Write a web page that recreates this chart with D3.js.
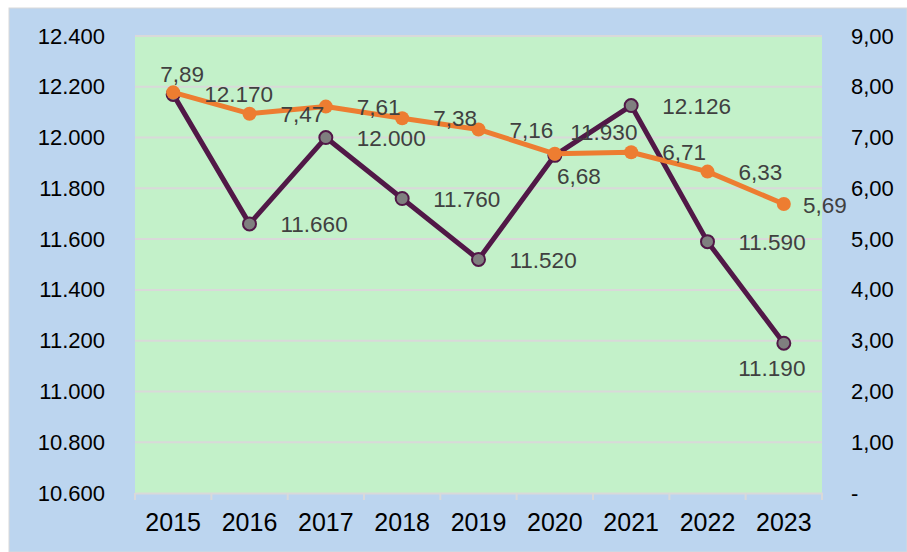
<!DOCTYPE html>
<html>
<head>
<meta charset="utf-8">
<script src="https://cdn.jsdelivr.net/npm/d3@7"></script>
<style>
  body { margin: 0; background: #fff; }
  text { font-family: "Liberation Sans", Arial, sans-serif; }
</style>
</head>
<body>
<div id="chart"></div>
<script>
// categories and series
const years = ['2015', '2016', '2017', '2018', '2019', '2020', '2021', '2022', '2023'];
const purpleValues = [12170, 11660, 12000, 11760, 11520, 11930, 12126, 11590, 11190];
const orangeValues = [7.89, 7.47, 7.61, 7.38, 7.16, 6.68, 6.71, 6.33, 5.69];

// tick values
const leftTicks = [10600, 10800, 11000, 11200, 11400, 11600, 11800, 12000, 12200, 12400];
const rightTicks = [0, 1, 2, 3, 4, 5, 6, 7, 8, 9];

// label placement: 'r' = right of point, otherwise [dx, dy] from point to label centre
const purpleLabelPos = ['r', 'r', 'r', 'r', 'r', [49, -23], 'r', 'r', [-12, 25]];
const orangeLabelPos = [[9, -18], 'r', 'r', 'r', 'r', [24, 22], 'r', 'r', [41, 1]];

const width = 907;
const height = 552;
const plot = { left: 135, right: 822, top: 36, bottom: 493 };

const purple = '#511847';
const orange = '#ed7d31';

const fmtLeft = v => d3.format(',')(v).replace(/,/g, '.');
const fmtRight = v => v === 0 ? '-' : d3.format('.2f')(v).replace('.', ',');
const fmtPurpleLabel = v => d3.format(',')(v).replace(/,/g, '.');
const fmtOrangeLabel = v => d3.format('.2f')(v).replace('.', ',');

const svg = d3.select('#chart')
  .append('svg')
  .attr('width', width)
  .attr('height', height);

// backgrounds
svg.append('rect')
  .attr('x', 9).attr('y', 8)
  .attr('width', width - 9).attr('height', height - 8)
  .attr('fill', '#bcd5ef')
  .attr('stroke', '#d9d9d9');

svg.append('rect')
  .attr('x', plot.left).attr('y', plot.top)
  .attr('width', plot.right - plot.left).attr('height', plot.bottom - plot.top)
  .attr('fill', '#c3f1c9');

const x = d3.scaleBand()
  .domain(years)
  .range([plot.left, plot.right]);

const yLeft = d3.scaleLinear()
  .domain([10600, 12400])
  .range([plot.bottom, plot.top]);

const yRight = d3.scaleLinear()
  .domain([0, 9])
  .range([plot.bottom, plot.top]);

const cx = d => x(d) + x.bandwidth() / 2;

// gridlines
svg.append('g')
  .selectAll('line')
  .data(leftTicks.slice(1))
  .enter()
  .append('line')
  .attr('x1', plot.left).attr('x2', plot.right)
  .attr('y1', d => yLeft(d)).attr('y2', d => yLeft(d))
  .attr('stroke', '#d9d9d9')
  .attr('stroke-width', 2);

// left axis
const leftAxis = svg.append('g')
  .attr('transform', `translate(${plot.left}, 0)`)
  .call(d3.axisLeft(yLeft).tickValues(leftTicks).tickFormat(fmtLeft).tickSize(0).tickPadding(30));
leftAxis.select('.domain').remove();
leftAxis.selectAll('text')
  .attr('font-size', 22)
  .attr('fill', '#000')
  .attr('font-family', '"Liberation Sans", Arial, sans-serif');

// right axis
const rightAxis = svg.append('g')
  .attr('transform', `translate(${plot.right}, 0)`)
  .call(d3.axisRight(yRight).tickValues(rightTicks).tickFormat(fmtRight).tickSize(0).tickPadding(29));
rightAxis.select('.domain').remove();
rightAxis.selectAll('text')
  .attr('font-size', 22)
  .attr('fill', '#000')
  .attr('font-family', '"Liberation Sans", Arial, sans-serif');

// bottom axis
const bottomAxis = svg.append('g')
  .attr('transform', `translate(0, ${plot.bottom})`)
  .call(d3.axisBottom(x).tickSize(0).tickPadding(20));
bottomAxis.select('.domain')
  .attr('stroke', '#d9d9d9')
  .attr('stroke-width', 2);
bottomAxis.selectAll('text')
  .attr('font-size', 25)
  .attr('fill', '#000')
  .attr('font-family', '"Liberation Sans", Arial, sans-serif');

// category boundary ticks
svg.append('g')
  .selectAll('line')
  .data(years.concat(['end']))
  .enter()
  .append('line')
  .attr('x1', (d, i) => i < years.length ? x(d) : plot.right)
  .attr('x2', (d, i) => i < years.length ? x(d) : plot.right)
  .attr('y1', plot.bottom)
  .attr('y2', plot.bottom + 7)
  .attr('stroke', '#d9d9d9')
  .attr('stroke-width', 2);

// purple series
const purpleLine = d3.line()
  .x((d, i) => cx(years[i]))
  .y(d => yLeft(d));

svg.append('path')
  .attr('d', purpleLine(purpleValues))
  .attr('fill', 'none')
  .attr('stroke', purple)
  .attr('stroke-width', 5)
  .attr('stroke-linejoin', 'round');

svg.append('g')
  .selectAll('circle')
  .data(purpleValues)
  .enter()
  .append('circle')
  .attr('cx', (d, i) => cx(years[i]))
  .attr('cy', d => yLeft(d))
  .attr('r', 6.5)
  .attr('fill', '#7f7f7f')
  .attr('stroke', purple)
  .attr('stroke-width', 2);

// orange series
const orangeLine = d3.line()
  .x((d, i) => cx(years[i]))
  .y(d => yRight(d));

svg.append('path')
  .attr('d', orangeLine(orangeValues))
  .attr('fill', 'none')
  .attr('stroke', orange)
  .attr('stroke-width', 5)
  .attr('stroke-linejoin', 'round');

svg.append('g')
  .selectAll('circle')
  .data(orangeValues)
  .enter()
  .append('circle')
  .attr('cx', (d, i) => cx(years[i]))
  .attr('cy', d => yRight(d))
  .attr('r', 7)
  .attr('fill', orange);

// data labels
function drawLabels(values, scale, fmt, positions) {
  svg.append('g')
    .selectAll('text')
    .data(values)
    .enter()
    .append('text')
    .attr('x', (d, i) => {
      const p = positions[i];
      return p === 'r' ? cx(years[i]) + 31 : cx(years[i]) + p[0];
    })
    .attr('y', (d, i) => {
      const p = positions[i];
      return p === 'r' ? scale(d) : scale(d) + p[1];
    })
    .attr('dy', '0.36em')
    .attr('text-anchor', (d, i) => positions[i] === 'r' ? 'start' : 'middle')
    .attr('font-size', 22.5)
    .attr('fill', '#404040')
    .text(d => fmt(d));
}

drawLabels(purpleValues, yLeft, fmtPurpleLabel, purpleLabelPos);
drawLabels(orangeValues, yRight, fmtOrangeLabel, orangeLabelPos);
</script>
</body>
</html>
